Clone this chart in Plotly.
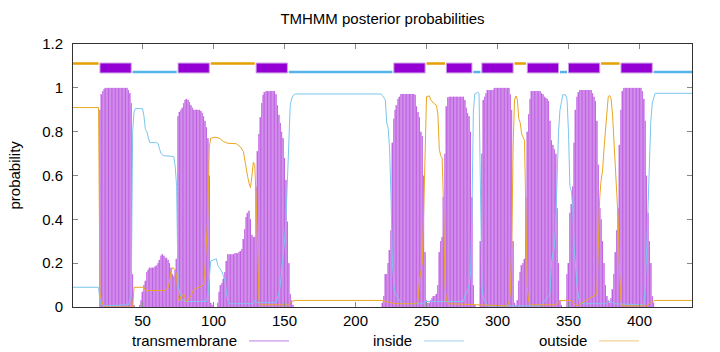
import plotly.graph_objects as go

# ---------------- data ----------------
seq_len = 437

# transmembrane posterior probability per residue, given as blocks (first residue, values)
tm_blocks = [
    (20, [0.90, 0.97, 0.985, 0.995, 1.0, 1.0, 1.0, 1.0, 1.0, 1.0, 1.0, 1.0, 1.0, 1.0, 1.0, 1.0,
          1.0, 1.0, 1.0, 1.0, 0.99, 0.975, 0.93, 0.15, 0.01]),
    (48, [0.01, 0.03, 0.07, 0.10, 0.12, 0.16, 0.17, 0.18, 0.18, 0.18, 0.18, 0.185, 0.19, 0.20,
          0.215, 0.235, 0.24, 0.235, 0.225, 0.225, 0.215, 0.20, 0.18, 0.15, 0.14, 0.17, 0.22,
          0.87, 0.89, 0.90, 0.91, 0.93, 0.945, 0.95, 0.945, 0.935, 0.92, 0.91, 0.90, 0.90, 0.90,
          0.90, 0.90, 0.895, 0.885, 0.87, 0.85, 0.82, 0.77, 0.60, 0.02, 0.01]),
    (103, [0.02, 0.07, 0.10, 0.11, 0.13, 0.16, 0.21, 0.24, 0.24, 0.24, 0.24, 0.24, 0.245, 0.245,
           0.245, 0.25, 0.255, 0.265, 0.31, 0.355, 0.41, 0.43, 0.44, 0.40, 0.33, 0.32, 0.32, 0.55,
           0.71, 0.79, 0.866, 0.93, 0.968, 0.98, 0.985, 0.985, 0.985, 0.985, 0.985, 0.985, 0.985,
           0.97, 0.92, 0.877, 0.84, 0.80, 0.77, 0.68, 0.58, 0.39, 0.20, 0.06, 0.03, 0.01]),
    (219, [0.02, 0.05, 0.15, 0.15, 0.20, 0.26, 0.35, 0.75, 0.86, 0.90, 0.92, 0.95, 0.96, 0.972,
           0.972, 0.972, 0.972, 0.972, 0.972, 0.972, 0.972, 0.972, 0.972, 0.968, 0.915, 0.89,
           0.866, 0.80, 0.78, 0.60, 0.25, 0.03, 0.02, 0.02, 0.03, 0.04, 0.05, 0.05, 0.06, 0.10,
           0.25, 0.30, 0.32, 0.50, 0.70, 0.915, 0.957, 0.96, 0.96, 0.96, 0.96, 0.96, 0.96, 0.96,
           0.96, 0.96, 0.96, 0.96, 0.945, 0.91, 0.885, 0.87, 0.80, 0.50, 0.10, 0.01]),
    (288, [0.30, 0.70, 0.945, 0.96, 0.975, 0.99, 0.99, 0.99, 0.99, 0.99, 1.0, 1.0, 1.0, 1.0, 1.0,
           1.0, 1.0, 1.0, 1.0, 1.0, 1.0, 0.97, 0.90, 0.30, 0.02, 0.01, 0.03, 0.12, 0.16, 0.19,
           0.20, 0.22, 0.50, 0.80, 0.88, 0.95, 0.985, 0.985, 0.985, 0.985, 0.985, 0.985, 0.985,
           0.975, 0.97, 0.96, 0.955, 0.95, 0.94, 0.85, 0.76, 0.74, 0.72, 0.70, 0.45, 0.20, 0.03,
           0.01]),
    (349, [0.15, 0.20, 0.43, 0.47, 0.55, 0.75, 0.90, 0.96, 0.98, 0.99, 0.99, 0.99, 0.99, 0.99,
           0.99, 0.99, 0.99, 0.99, 0.975, 0.96, 0.94, 0.85, 0.65, 0.45, 0.40, 0.30, 0.20, 0.10,
           0.05, 0.03, 0.02, 0.04, 0.08, 0.15, 0.25, 0.35, 0.45, 0.74, 0.90, 0.985, 1.0, 1.0, 1.0,
           1.0, 1.0, 1.0, 1.0, 1.0, 1.0, 1.0, 1.0, 1.0, 1.0, 0.985, 0.95, 0.85, 0.60, 0.43, 0.30,
           0.20, 0.05, 0.02]),
]

# inside posterior probability (residue, value)
inside_x = [1, 19, 20, 21, 22, 40, 41, 42, 43, 44, 45, 50, 51, 52, 53, 54, 55, 60, 61, 62, 63,
            64, 65, 70, 72, 73, 74, 75, 76, 77, 80, 95, 96, 97, 98, 102, 103, 106, 108, 109, 110,
            111, 128, 129, 131, 144, 146, 147, 148, 149, 150, 151, 152, 153, 154, 155, 156, 157,
            158, 218, 219, 221, 222, 223, 224, 225, 226, 227, 228, 231, 233, 247, 249, 253, 276,
            277, 279, 280, 281, 282, 283, 284, 286, 287, 288, 289, 290, 292, 293, 330, 333, 337,
            338, 339, 340, 341, 342, 343, 344, 345, 346, 348, 349, 350, 351, 352, 353, 354, 355,
            356, 357, 358, 376, 378, 380, 382, 403, 404, 405, 406, 407, 408, 409, 410, 411, 437]
inside_y = [0.09, 0.09, 0.03, 0.01, 0.005, 0.01, 0.03, 0.05, 0.80, 0.89, 0.906, 0.905, 0.87,
            0.81, 0.80, 0.77, 0.75, 0.75, 0.745, 0.72, 0.70, 0.695, 0.69, 0.688, 0.685, 0.64,
            0.55, 0.10, 0.06, 0.04, 0.025, 0.025, 0.05, 0.15, 0.21, 0.22, 0.19, 0.16, 0.12, 0.07,
            0.03, 0.015, 0.015, 0.03, 0.02, 0.02, 0.06, 0.10, 0.17, 0.22, 0.30, 0.40, 0.60, 0.80,
            0.92, 0.95, 0.965, 0.97, 0.972, 0.972, 0.965, 0.945, 0.84, 0.815, 0.72, 0.50, 0.20,
            0.10, 0.06, 0.03, 0.015, 0.015, 0.025, 0.025, 0.025, 0.05, 0.075, 0.10, 0.15, 0.43,
            0.89, 0.972, 0.98, 0.975, 0.50, 0.10, 0.04, 0.015, 0.005, 0.005, 0.025, 0.06, 0.20,
            0.245, 0.27, 0.38, 0.60, 0.80, 0.90, 0.945, 0.968, 0.968, 0.945, 0.80, 0.55, 0.53,
            0.45, 0.27, 0.18, 0.10, 0.05, 0.015, 0.015, 0.025, 0.025, 0.015, 0.01, 0.08, 0.25,
            0.45, 0.70, 0.85, 0.93, 0.96, 0.975, 0.975]

# outside posterior probability (residue, value)
outside_x = [1, 19, 20, 21, 22, 23, 43, 44, 51, 52, 66, 68, 69, 70, 71, 73, 74, 75, 76, 77, 79,
             81, 84, 86, 90, 93, 94, 95, 96, 97, 98, 101, 104, 107, 110, 116, 119, 121, 122, 124,
             125, 126, 127, 128, 129, 130, 131, 132, 133, 153, 155, 158, 218, 221, 224, 228, 243,
             244, 245, 247, 248, 249, 250, 252, 253, 255, 257, 258, 259, 260, 261, 262, 263, 264,
             265, 307, 308, 309, 310, 311, 312, 313, 314, 315, 316, 317, 319, 320, 321, 322, 323,
             341, 343, 344, 352, 354, 356, 370, 371, 372, 373, 374, 375, 376, 377, 378, 379, 380,
             381, 382, 383, 384, 385, 386, 387, 388, 405, 407, 409, 411, 437]
outside_y = [0.91, 0.91, 0.06, 0.03, 0.01, 0.0, 0.0, 0.09, 0.09, 0.075, 0.075, 0.09, 0.115, 0.16,
             0.18, 0.17, 0.14, 0.04, 0.025, 0.05, 0.058, 0.025, 0.05, 0.08, 0.09, 0.10, 0.18, 0.30,
             0.42, 0.73, 0.77, 0.775, 0.77, 0.755, 0.747, 0.745, 0.73, 0.71, 0.664, 0.595, 0.565,
             0.545, 0.595, 0.66, 0.65, 0.50, 0.27, 0.03, 0.01, 0.01, 0.025, 0.03, 0.03, 0.025,
             0.02, 0.015, 0.015, 0.03, 0.12, 0.20, 0.43, 0.73, 0.96, 0.963, 0.945, 0.93, 0.92,
             0.88, 0.72, 0.69, 0.68, 0.46, 0.10, 0.03, 0.015, 0.005, 0.02, 0.06, 0.27, 0.73, 0.945,
             0.963, 0.945, 0.86, 0.84, 0.79, 0.76, 0.43, 0.09, 0.025, 0.01, 0.01, 0.02, 0.03, 0.03,
             0.015, 0.005, 0.06, 0.30, 0.50, 0.58, 0.62, 0.72, 0.80, 0.90, 0.96, 0.965, 0.95, 0.88,
             0.76, 0.64, 0.55, 0.40, 0.15, 0.03, 0.005, 0.005, 0.015, 0.025, 0.03, 0.03]

# predicted topology segments
tm_start = [20, 75, 130, 227, 264, 289, 321, 350, 387]
tm_end = [42, 97, 152, 249, 282, 311, 343, 372, 409]
in_start = [43, 153, 283, 344, 410]
in_end = [74, 226, 288, 349, 437]
out_start = [1, 98, 250, 312, 373]
out_end = [19, 129, 263, 320, 386]

x_ticks = [50, 100, 150, 200, 250, 300, 350, 400]
y_ticks = [0, 0.2, 0.4, 0.6, 0.8, 1.0, 1.2]
y_ticktext = ["0", "0.2", "0.4", "0.6", "0.8", "1", "1.2"]

title_text = "TMHMM posterior probabilities"
y_title = "probability"
legend_names = ["transmembrane", "inside", "outside"]

# ---------------- styles ----------------
FONT = "Liberation Sans, Arial, sans-serif"
C_TM = "#9400D3"
C_TM_LIGHT = "#e4bcf3"
C_TM_DARK = "#bf62e2"
C_IN = "#56B4E9"
C_OUT = "#E69F00"
C_IN_LINE = "#7cc6ee"
C_OUT_LINE = "#eaa622"

tm_x, tm_y = [], []
for start, vals in tm_blocks:
    for i, v in enumerate(vals):
        tm_x.append(start + i)
        tm_y.append(v)

# impulses (vertical segments from 0 to value at each residue)
imp_x, imp_y = [], []
for xv, yv in zip(tm_x, tm_y):
    imp_x += [xv, xv, None]
    imp_y += [0, yv, None]

fig = go.Figure()
fig.add_trace(go.Bar(x=tm_x, y=tm_y, width=1.0, marker=dict(color=C_TM_LIGHT, line=dict(width=0)),
                     name=legend_names[0], showlegend=False))
fig.add_trace(go.Scatter(x=imp_x, y=imp_y, mode="lines", line=dict(color=C_TM_DARK, width=1),
                         name=legend_names[0], showlegend=False, connectgaps=False))
fig.add_trace(go.Scatter(x=inside_x, y=inside_y, mode="lines", line=dict(color=C_IN_LINE, width=1),
                         name=legend_names[1], showlegend=False))
fig.add_trace(go.Scatter(x=outside_x, y=outside_y, mode="lines", line=dict(color=C_OUT_LINE, width=1),
                         name=legend_names[2], showlegend=False))

shapes = []
for s, e in zip(out_start, out_end):
    shapes.append(dict(type="line", xref="x", yref="y", x0=s, x1=e, y0=1.111, y1=1.111,
                       line=dict(color=C_OUT, width=2.5)))
for s, e in zip(in_start, in_end):
    shapes.append(dict(type="line", xref="x", yref="y", x0=s, x1=e, y0=1.072, y1=1.072,
                       line=dict(color=C_IN, width=2.5)))
for s, e in zip(tm_start, tm_end):
    shapes.append(dict(type="rect", xref="x", yref="y", x0=s, x1=e, y0=1.068, y1=1.113,
                       fillcolor=C_TM, line=dict(color="#c99ae6", width=1)))

# legend (gnuplot style: text then sample line)
leg_text_right = [0.2682, 0.5509, 0.8336]
leg_line_x0 = [0.2843, 0.5670, 0.8498]
leg_line_x1 = [0.3489, 0.6317, 0.9144]
leg_colors = ["#c07ee2", "#a3d3ec", "#f0c677"]
leg_y = -0.129
annotations = []
for name, xr, x0, x1, col in zip(legend_names, leg_text_right, leg_line_x0, leg_line_x1, leg_colors):
    annotations.append(dict(text=name, xref="paper", yref="paper", x=xr, y=leg_y,
                            xanchor="right", yanchor="middle", showarrow=False,
                            font=dict(family=FONT, size=15, color="#000")))
    shapes.append(dict(type="line", xref="paper", yref="paper", x0=x0, x1=x1, y0=leg_y, y1=leg_y,
                       line=dict(color=col, width=1)))

annotations.append(dict(text=y_title, xref="paper", yref="paper", x=-0.0953, y=0.5,
                        textangle=-90, xanchor="center", yanchor="middle", showarrow=False,
                        font=dict(family=FONT, size=15, color="#000")))

fig.update_layout(
    width=720, height=352,
    margin=dict(l=73, r=28, t=44, b=45),
    paper_bgcolor="white", plot_bgcolor="white",
    barmode="overlay", bargap=0,
    showlegend=False,
    font=dict(family=FONT, size=15, color="#000"),
    title=dict(text=title_text, x=0.5, xref="paper", y=1 - 19 / 352, yref="container",
               xanchor="center", yanchor="middle", font=dict(family=FONT, size=15, color="#000")),
    shapes=shapes,
    annotations=annotations,
    xaxis=dict(range=[1, seq_len], tickvals=x_ticks, showgrid=False, zeroline=False,
               showline=True, linecolor="#333", linewidth=1, mirror="allticks",
               ticks="inside", ticklen=5, tickcolor="#888", tickfont=dict(size=15, family=FONT)),
    yaxis=dict(range=[0, 1.2], tickvals=y_ticks, ticktext=y_ticktext, showgrid=False, zeroline=False,
               showline=True, linecolor="#333", linewidth=1, mirror="allticks",
               ticks="inside", ticklen=5, tickcolor="#888", tickfont=dict(size=15, family=FONT),
               ticklabelstandoff=6),
)

fig.write_html("out.html")
